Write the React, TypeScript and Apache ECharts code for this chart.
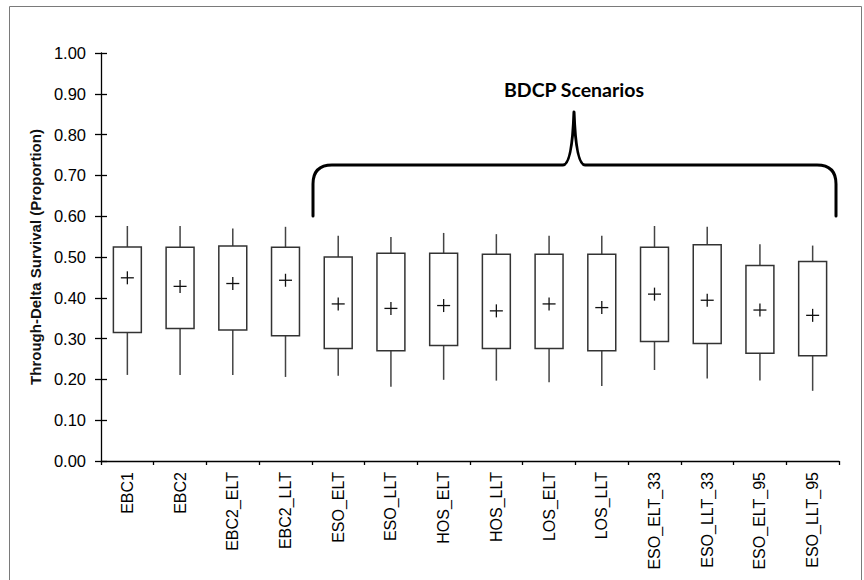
import React, { useEffect, useRef } from "react";
import * as echarts from "echarts";

const categories = [
  "EBC1", "EBC2", "EBC2_ELT", "EBC2_LLT", "ESO_ELT", "ESO_LLT", "HOS_ELT",
  "HOS_LLT", "LOS_ELT", "LOS_LLT", "ESO_ELT_33", "ESO_LLT_33", "ESO_ELT_95", "ESO_LLT_95",
];
const whiskerLow = [0.211, 0.211, 0.211, 0.206, 0.209, 0.182, 0.199, 0.197, 0.193, 0.184, 0.223, 0.202, 0.197, 0.172];
const quartile1 = [0.315, 0.325, 0.321, 0.307, 0.276, 0.27, 0.283, 0.276, 0.276, 0.27, 0.293, 0.288, 0.264, 0.258];
const quartile3 = [0.5245, 0.524, 0.527, 0.524, 0.5, 0.509, 0.509, 0.507, 0.507, 0.507, 0.524, 0.53, 0.479, 0.489];
const whiskerHigh = [0.576, 0.576, 0.57, 0.574, 0.552, 0.549, 0.559, 0.556, 0.552, 0.552, 0.576, 0.574, 0.531, 0.528];
const means = [0.449, 0.428, 0.435, 0.443, 0.385, 0.374, 0.381, 0.368, 0.385, 0.376, 0.409, 0.394, 0.37, 0.357];
const yTicks = { min: 0, max: 1, interval: 0.1 };
const yAxisTitle = "Through-Delta Survival (Proportion)";
const bracketTitle = "BDCP Scenarios";

const braceD =
  "M313,216 L313,184 Q313,165 332,165 L563,165 Q572,165 574,112 Q576,165 585,165 L817,165 Q836,165 836,184 L836,216";

export default function App() {
  const ref = useRef<HTMLDivElement>(null);
  useEffect(() => {
    if (!ref.current) return;
    try {
      echarts.graphic.registerShape("brace", echarts.graphic.extendPath(braceD, {}) as any);
    } catch (e) {}
    const chart = echarts.init(ref.current, null, { renderer: "svg" });
    const data = categories.map((_, i) => [i, whiskerLow[i], quartile1[i], quartile3[i], whiskerHigh[i], means[i]]);
    chart.setOption({
      animation: false,
      backgroundColor: "#fff",
      grid: { left: 101, right: 25, top: 53, bottom: 119, outerBoundsMode: "none" } as any,
      xAxis: {
        type: "category",
        data: categories,
        boundaryGap: true,
        axisLine: { show: true, lineStyle: { color: "#000", width: 1.3 } },
        axisTick: { show: true, length: 4, interval: 0, lineStyle: { color: "#000", width: 1.3 } },
        axisLabel: {
          interval: 0,
          rotate: 90,
          margin: 11,
          fontSize: 16,
          fontFamily: "Liberation Sans, Arial, sans-serif",
          color: "#000",
        },
        splitLine: { show: false },
      },
      yAxis: [
        {
          type: "value",
          position: "left",
          min: yTicks.min,
          max: yTicks.max,
          interval: yTicks.interval,
          name: yAxisTitle,
          nameLocation: "middle",
          nameGap: 56,
          nameTextStyle: {
            fontSize: 15,
            fontWeight: "bold",
            fontFamily: "Liberation Sans, Arial, sans-serif",
            color: "#111",
          },
          axisLine: { show: true, lineStyle: { color: "#000", width: 1.3 } },
          axisTick: { show: true, length: 6, lineStyle: { color: "#000", width: 1.3 } },
          axisLabel: {
            margin: 15,
            fontSize: 16.5,
            fontFamily: "Liberation Sans, Arial, sans-serif",
            color: "#000",
            formatter: (v: number) => v.toFixed(2),
          },
          splitLine: { show: false },
        },
        {
          type: "value",
          position: "left",
          min: yTicks.min,
          max: yTicks.max,
          interval: yTicks.interval,
          axisLine: { show: false },
          axisTick: { show: true, inside: true, length: 6, lineStyle: { color: "#000", width: 1.3 } },
          axisLabel: { show: false },
          splitLine: { show: false },
        },
      ],
      series: [
        {
          type: "custom",
          xAxisIndex: 0,
          yAxisIndex: 0,
          encode: { x: 0, y: [1, 2, 3, 4, 5] },
          data,
          renderItem: (params: any, api: any) => {
            const idx = api.value(0);
            const [cx, yMin] = api.coord([idx, api.value(1)]);
            const yQ1 = api.coord([idx, api.value(2)])[1];
            const yQ3 = api.coord([idx, api.value(3)])[1];
            const yMax = api.coord([idx, api.value(4)])[1];
            const yMean = api.coord([idx, api.value(5)])[1];
            const w = api.size([1, 0])[0] * 0.53;
            const ls = { stroke: "#444", lineWidth: 1.5 };
            return {
              type: "group",
              children: [
                { type: "line", shape: { x1: cx, y1: yMin, x2: cx, y2: yQ1 }, style: ls },
                { type: "line", shape: { x1: cx, y1: yQ3, x2: cx, y2: yMax }, style: ls },
                {
                  type: "rect",
                  shape: { x: cx - w / 2, y: yQ3, width: w, height: yQ1 - yQ3 },
                  style: { fill: "#fff", stroke: "#333", lineWidth: 1.5 },
                },
                { type: "line", shape: { x1: cx - 6.5, y1: yMean, x2: cx + 6.5, y2: yMean }, style: { stroke: "#111", lineWidth: 1.3 } },
                { type: "line", shape: { x1: cx, y1: yMean - 6.5, x2: cx, y2: yMean + 6.5 }, style: { stroke: "#111", lineWidth: 1.3 } },
              ],
            };
          },
        },
      ],
      graphic: [
        {
          type: "rect",
          shape: { x: 9.5, y: 6.5, width: 852, height: 600 },
          style: { fill: "none", stroke: "#7a7a7a", lineWidth: 1 },
          silent: true,
        },
        {
          type: "brace",
          x: 0,
          y: 0,
          style: { fill: "none", stroke: "#000", lineWidth: 3, lineJoin: "round", lineCap: "round" },
          silent: true,
        } as any,
        {
          type: "text",
          x: 574,
          y: 89,
          style: {
            text: bracketTitle,
            fontSize: 19.5,
            fontWeight: "bold",
            fontFamily: "Lato, Liberation Sans, sans-serif",
            fill: "#000",
            align: "center",
            verticalAlign: "middle",
          },
          silent: true,
        },
      ],
    });
    return () => chart.dispose();
  }, []);
  return <div ref={ref} style={{ position: "fixed", left: 0, top: 0, width: 864, height: 580, background: "#fff" }} />;
}
